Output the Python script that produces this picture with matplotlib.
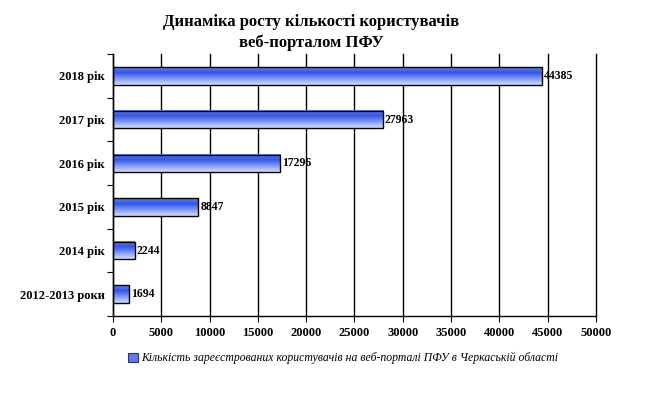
import numpy as np
import matplotlib
matplotlib.use("Agg")
import matplotlib.pyplot as plt
from matplotlib.colors import LinearSegmentedColormap
from matplotlib.patches import Rectangle, Patch

categories = ['2018 рік', '2017 рік', '2016 рік', '2015 рік', '2014 рік', '2012-2013 роки']
values = [44385, 27963, 17296, 8847, 2244, 1694]
xticks = [0, 5000, 10000, 15000, 20000, 25000, 30000, 35000, 40000, 45000, 50000]
title_text = 'Динаміка росту кількості користувачів\nвеб-порталом ПФУ'
legend_text = 'Кількість зареєстрованих користувачів на веб-порталі ПФУ в Черкаській області'

plt.rcParams['font.family'] = ['Liberation Serif', 'DejaVu Serif']

fig = plt.figure(figsize=(6.65, 3.98), dpi=100)
ax = fig.add_axes([0.170, 0.206, 0.726, 0.658])

cmap = LinearSegmentedColormap.from_list(
    'bar', [(0.0, '#6684ec'), (0.3, '#3355e6'), (1.0, '#d4defd')])
grad = np.linspace(0, 1, 64).reshape(-1, 1)

n = len(categories)
ys = np.arange(n)[::-1]  # first category at top
h = 0.4
for y, v in zip(ys, values):
    ax.imshow(grad, cmap=cmap, aspect='auto', origin='upper',
              extent=(0, v, y - h / 2, y + h / 2), zorder=2.5, interpolation='bilinear')
    ax.add_patch(Rectangle((0, y - h / 2), v, h, facecolor='none',
                           edgecolor='black', linewidth=1.0, zorder=3))
    ax.text(v + 200, y, f'{v}', va='center', ha='left', fontsize=8.5,
            fontweight='bold', zorder=4)

ax.set_xlim(0, 50000)
ax.set_ylim(-0.5, n - 0.5)
ax.set_xticks(xticks)
ax.set_xticklabels([str(t) for t in xticks], fontsize=9, fontweight='bold')
ax.xaxis.grid(True, color='black', linewidth=1.0, zorder=1)
ax.set_axisbelow(True)
for gl in ax.get_xgridlines():
    gl.set_clip_on(False)

ax.set_yticks(np.arange(-0.5, n, 1.0))
ax.set_yticklabels([])
ax.set_yticks(ys, minor=True)
ax.set_yticklabels(categories, minor=True, fontsize=9, fontweight='bold')
ax.tick_params(axis='y', which='minor', length=0, pad=6)
ax.tick_params(axis='y', which='major', length=4, direction='out', color='black')
ax.tick_params(axis='x', length=4, direction='out', color='black', pad=4)

for s in ['top', 'right']:
    ax.spines[s].set_visible(False)
for s in ['left', 'bottom']:
    ax.spines[s].set_color('black')
    ax.spines[s].set_linewidth(1.0)

fig.text(0.468, 0.918, title_text, ha='center', va='center', fontsize=12,
         fontweight='bold', linespacing=1.35)

handle = Patch(facecolor='#5a7cf0', edgecolor='#333366', linewidth=0.8)
fig.legend([handle], [legend_text], loc='center', bbox_to_anchor=(0.516, 0.10),
           frameon=False, prop={'style': 'italic', 'size': 8.5},
           handlelength=0.8, handleheight=0.8, handletextpad=0.3)

fig.savefig('out.png', dpi=100)
